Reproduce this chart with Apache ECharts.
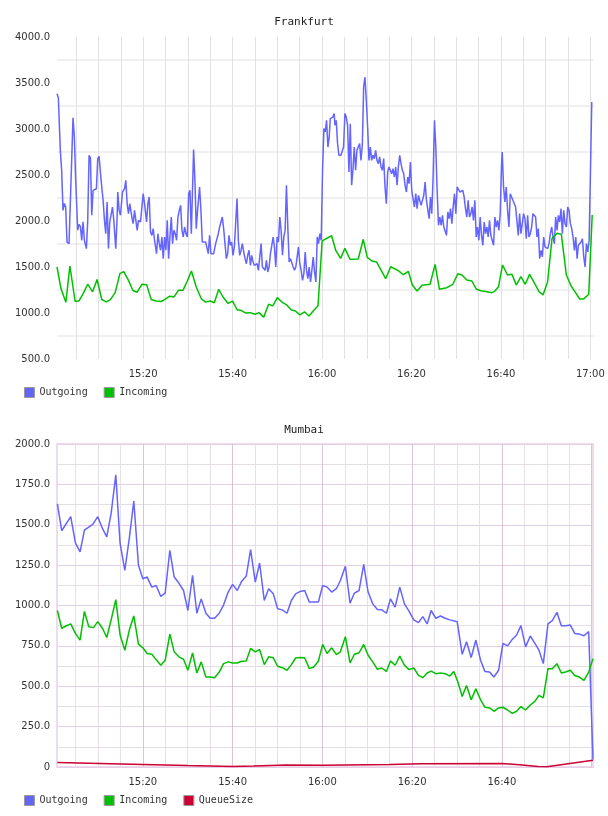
<!DOCTYPE html>
<html>
<head>
<meta charset="utf-8">
<title>Frankfurt / Mumbai</title>
<script src="https://cdn.jsdelivr.net/npm/echarts@6/dist/echarts.min.js"></script>
<style>
  html, body { margin: 0; padding: 0; background: #ffffff; }
  .chart { width: 608px; height: 408px; }
</style>
</head>
<body>
<div id="frankfurt" class="chart"></div>
<div id="mumbai" class="chart"></div>
<script>
// time = minutes after 15:00, value
var frankfurtOutgoing = [
  [0.74,3384],[1.04,3340],[1.48,2768],[1.78,2550],[2.08,2116],[2.38,2190],[2.68,2150],[2.98,1770],[3.43,1754],[3.73,1754],
  [4.32,3123],[4.62,2913],[4.92,2442],[5.37,1900],[5.67,1964],[5.97,1942],[6.27,1790],[6.56,1990],[6.86,1790],[7.31,1700],
  [7.61,2007],[7.91,2714],[8.21,2690],[8.51,2062],[8.81,2333],[9.25,2340],[9.55,2350],[9.85,2678],[10.15,2703],[10.6,2442],
  [11.05,2225],[11.35,2007],[11.64,1862],[11.94,2206],[12.24,1700],[12.54,1990],[12.84,2007],[13.14,2152],[13.44,2007],[13.88,1700],
  [14.18,2043],[14.33,2315],[14.63,2116],[14.93,2062],[15.38,2315],[15.83,2350],[16.13,2442],[16.42,2188],[16.72,2080],[17.02,2188],
  [17.47,2043],[17.77,1971],[18.07,2116],[18.37,2007],[18.67,1898],[18.96,2007],[19.41,1990],[19.71,2007],[20.01,2297],[20.31,2188],
  [20.76,1990],[21.06,2188],[21.35,2261],[21.65,1880],[21.95,1844],[22.25,1917],[22.55,1790],[23.0,1645],[23.3,1862],[23.6,1754],
  [23.89,1682],[24.19,1826],[24.49,1591],[24.79,1826],[25.09,1682],[25.39,2007],[25.69,1591],[25.99,1826],[26.29,2043],[26.58,1754],
  [26.88,1898],[27.18,1862],[27.48,1790],[27.78,2043],[28.08,2116],[28.38,2170],[28.68,1898],[28.97,1826],[29.27,1935],[29.57,1862],
  [29.87,1826],[30.17,2297],[30.47,2333],[30.77,1862],
  [31.28,2776],[31.58,2442],[31.87,1917],[32.17,2116],[32.62,2370],[32.92,2116],[33.22,1772],[33.52,1772],[33.97,1772],[34.26,1754],
  [34.56,1645],[34.86,1844],[35.16,1645],[35.46,1663],[35.76,1645],[36.21,1754],[36.51,1736],[36.8,1862],[37.1,1935],[37.4,1935],
  [37.7,2043],[38.0,1917],[38.3,1754],[38.6,1591],[38.9,1645],[39.19,1844],[39.49,1736],[39.79,1772],[40.09,1627],[40.39,1718],
  [40.69,1718],[40.99,2243],[41.29,1790],[41.59,1627],[41.88,1682],[42.18,1754],[42.48,1663],[42.78,1591],[43.08,1536],[43.38,1627],
  [43.68,1682],[43.98,1518],[44.27,1627],[44.57,1555],[44.87,1518],[45.17,1500],[45.47,1536],[45.77,1464],[46.07,1446],[46.37,1754],
  [46.66,1500],[46.96,1518],[47.26,1464],[47.56,1573],[47.86,1446],[48.16,1500],[48.46,1645],[48.76,1627],[49.06,1826],[49.35,1718],
  [49.65,1500],[49.95,1826],[50.25,1772],[50.55,2043],[50.85,1898],[51.15,1627],[51.45,1826],[51.74,1898],[52.04,2388],[52.34,1935],
  [52.64,1555],[52.94,1591],[53.24,1573],[53.54,1500],[53.84,1464],[54.13,1500],[54.43,1609],[54.73,1718],[55.03,1536],[55.33,1464],
  [55.63,1355],[55.93,1428],[56.23,1663],[56.53,1464],[56.82,1373],[57.12,1500],[57.42,1337],[57.72,1464],[58.02,1609],[58.32,1446],
  [58.62,1337],[58.92,1826],[59.21,1754],[59.51,1862],[59.81,1790],[60.11,2551],[60.41,3004],[60.71,2967],[61.01,3094],[61.31,2804],
  [61.6,2913],
  [61.83,3112],[62.12,3094],[62.42,3130],[62.72,3167],[62.87,3040],[63.17,3094],[63.47,2841],[63.77,2714],[64.22,2714],[64.51,2732],
  [64.81,2804],[65.11,3167],[65.41,3130],[65.71,3040],[66.01,2533],[66.31,3058],[66.61,2388],[66.9,2551],[67.2,2804],[67.5,2551],
  [67.8,2768],[68.1,2768],[68.4,2841],[68.7,2659],[69.0,2823],[69.3,3457],[69.59,3565],[69.89,3312],[70.19,3022],[70.49,2659],
  [70.79,2804],[71.09,2659],[71.39,2714],[71.69,2678],[71.98,2768],[72.28,2659],[72.58,2623],[72.88,2696],[73.18,2587],[73.48,2551],
  [73.78,2678],[74.08,2370],[74.37,2188],[74.67,2533],[74.97,2587],[75.27,2551],[75.57,2514],[75.87,2569],[76.17,2478],[76.47,2587],
  [76.77,2388],[77.06,2587],[77.36,2714],[77.66,2623],[77.96,2551],[78.26,2514],[78.56,2388],[78.86,2315],[79.16,2478],[79.45,2406],
  [79.75,2641],[80.05,2333],[80.35,2333],[80.65,2152],[80.95,2297],[81.25,2134],[81.55,2279],[81.85,2279],[82.14,2170],[82.44,2170],
  [82.74,2279],[83.04,2424],[83.34,2225],[83.64,2206],[83.94,2025],[84.24,2261],[84.53,2080],[84.83,2478],[85.13,3094],[85.43,2804],
  [85.73,2333],[86.03,1953],[86.33,2043],[86.63,1953],[86.92,2061],[87.22,1935],[87.52,1917],[87.82,1844],[88.12,2098],[88.42,2025],
  [88.72,2134],[89.02,1971],[89.31,2152],[89.61,2297],[89.91,2080],[90.21,2370],[90.51,2388],[90.81,2315],
  [91.17,2297],[91.47,2333],[91.77,2261],[92.07,2134],[92.36,2043],[92.66,2225],[92.96,2043],[93.26,2080],[93.56,2152],[93.86,2007],
  [94.16,2225],[94.46,1826],[94.75,1935],[95.05,1790],[95.35,2043],[95.65,1844],[95.95,1736],[96.25,1989],[96.55,1862],[96.85,1935],
  [97.14,1826],[97.44,2007],[97.74,1844],[98.04,1826],[98.34,1736],[98.64,2043],[98.94,1935],[99.24,2007],[99.54,1898],[99.83,2080],
  [100.13,2623],[100.28,2750],[100.58,2370],[100.88,2206],[101.18,2370],[101.48,2116],[101.78,1935],[102.08,2297],[102.37,2297],[102.67,2225],
  [102.97,2206],[103.27,2152],[103.57,2170],[103.87,1844],[104.17,2080],[104.47,1862],[104.76,1862],[105.06,2080],[105.36,2025],[105.66,1808],
  [105.96,2061],[106.26,1826],[106.56,1862],[106.86,1935],[107.15,2080],[107.45,2098],[107.75,2043],[108.05,1826],[108.35,1917],[108.65,1591],
  [108.95,1681],[109.25,1609],[109.55,1826],[109.84,1718],[110.14,1700],[110.44,1700],[110.74,1754],[111.04,1862],[111.34,1935],[111.64,1826],
  [111.94,1754],[112.23,2043],[112.53,1898],[112.83,2061],[113.13,1989],[113.43,2134],[113.73,1862],[114.03,2116],[114.33,1971],[114.63,1935],
  [114.92,2152],[115.22,2116],[115.52,1971],[115.82,1917],[116.12,1826],[116.42,1681],[116.72,1826],[117.02,1591],[117.31,1736],[117.61,1754],
  [117.91,1772],[118.21,1808],[118.51,1609],[118.81,1500],[119.11,1754],[119.41,1663],[119.71,1790],[120.0,2515],[120.3,3293]
];

var frankfurtIncoming = [
  [0.74,1500],[1.63,1265],[2.72,1116],[3.62,1511],[4.8,1125],[5.7,1134],[6.58,1210],[7.6,1313],[8.69,1230],[9.7,1364],
  [10.74,1147],[11.75,1121],[12.69,1145],[13.74,1221],[14.82,1430],[15.67,1449],[16.72,1355],[17.72,1244],[18.67,1226],[19.75,1313],
  [20.79,1306],[21.8,1147],[22.85,1130],[24.0,1125],[24.79,1145],[25.94,1183],[26.9,1175],[27.93,1248],[28.92,1248],[29.87,1348],
  [30.8,1456],[31.87,1283],[33.0,1155],[33.95,1118],[35.01,1130],[35.91,1112],[36.9,1258],[37.85,1174],[39.0,1104],[40.0,1130],
  [40.99,1035],[42.0,1027],[42.93,999],[43.98,1004],[44.98,986],[45.91,1004],[46.96,955],[48.05,1095],[48.98,1077],[50.0,1167],
  [51.1,1116],[52.1,1088],[53.09,1036],[54.03,1022],[55.06,980],[56.1,1013],[57.08,968],[58.02,1022],[59.1,1078],[60.02,1783],
  [62.13,1840],[63.09,1677],[64.15,1594],[65.11,1703],[66.23,1584],[68.09,1587],[69.21,1801],[70.11,1605],[71.16,1565],[72.21,1554],
  [74.23,1373],[75.35,1503],[77.05,1460],[78.17,1416],[79.29,1453],[80.19,1304],[81.24,1239],[82.36,1301],[84.15,1312],[85.27,1529],
  [86.24,1258],[87.89,1275],[89.24,1312],[90.36,1427],[91.25,1413],[92.38,1359],[93.5,1348],[94.46,1261],[95.51,1242],[96.86,1232],
  [97.98,1221],[98.49,1232],[99.45,1286],[100.35,1522],[101.47,1413],[102.46,1420],[103.42,1304],[104.47,1395],[105.44,1312],[106.4,1420],
  [107.52,1323],[108.51,1232],[109.4,1196],[110.43,1340],[111.42,1812],[112.54,1866],[113.5,1855],[114.62,1413],[115.68,1293],[116.64,1225],
  [117.6,1152],[118.5,1152],[119.62,1203],[120.4,2065]
];

var mumbaiOutgoing = [
  [0.97,1629],[1.93,1463],[3.94,1550],[4.98,1388],[6.02,1332],[6.99,1467],[8.85,1502],[9.96,1550],[11.0,1477],[11.97,1425],
  [12.94,1570],[13.98,1809],[14.94,1384],[15.99,1218],[17.03,1425],[17.99,1647],[19.03,1249],[20.0,1166],[20.97,1176],[22.01,1114],
  [22.97,1124],[24.01,1056],[24.98,1077],[26.02,1342],[26.99,1176],[28.03,1139],[29.07,1093],[30.04,969],[31.08,1187],[32.04,952],
  [33.01,1041],[34.05,952],[35.02,921],[35.99,921],[37.03,952],[38.0,1004],[39.03,1083],[40.0,1131],[41.04,1093],[42.01,1149],
  [43.05,1182],[44.01,1346],[45.06,1145],[46.02,1263],[47.06,1031],[48.03,1104],[49.07,1072],[50.04,980],[51.08,973],[52.12,952],
  [53.09,1031],[54.05,1072],[55.09,1087],[56.06,1093],[57.1,1021],[58.07,1021],[59.11,1021],[60.07,1124],[61.04,1114],[62.08,1083],
  [63.12,1104],[64.01,1155],[65.13,1243],[66.17,1014],[67.14,1077],[68.18,1093],[69.22,1255],[70.19,1083],[71.23,1010],[72.27,975],
  [73.24,973],[74.28,952],[75.17,1041],[76.21,990],[77.25,1114],[78.29,1010],[79.33,963],[80.37,911],[81.41,894],[82.38,931],
  [83.35,886],[84.24,969],[85.28,921],[86.32,935],[87.36,921],[88.4,911],[90.04,900],[91.16,698],[92.12,775],[93.16,678],
  [94.2,786],[95.25,661],[96.21,592],[97.25,588],[98.22,557],[99.26,599],[100.23,765],[101.27,750],[102.31,790],[103.28,817],
  [104.24,875],[105.28,744],[106.33,811],[107.29,769],[108.26,723],[109.23,640],[110.27,886],[111.23,906],[112.27,958],[113.24,875],
  [114.21,875],[115.25,879],[116.22,827],[117.26,823],[118.3,813],[119.34,838],[120.3,47]
];

var mumbaiIncoming = [
  [0.97,969],[1.93,859],[2.9,873],[3.94,886],[4.98,827],[6.02,786],[6.99,963],[7.96,869],[9.0,863],[9.96,900],
  [11.0,859],[11.97,802],[12.94,911],[13.98,1036],[14.94,817],[15.99,723],[17.03,852],[17.99,935],[19.03,761],[20.0,738],
  [20.97,703],[22.01,698],[22.97,665],[24.01,630],[24.98,661],[26.02,823],[26.99,713],[28.03,682],[29.07,667],[30.04,599],
  [31.08,707],[32.04,582],[33.01,651],[34.05,557],[35.02,557],[35.99,553],[37.03,588],[38.0,640],[39.03,651],[40.0,644],
  [41.04,644],[42.01,655],[43.05,657],[44.01,734],[45.06,713],[46.02,728],[47.06,634],[48.03,682],[49.07,676],[50.04,624],
  [51.08,615],[52.12,599],[53.09,634],[54.05,675],[55.09,678],[56.06,676],[57.1,609],[58.07,619],[59.11,655],[60.07,759],
  [61.04,703],[62.08,738],[63.12,696],[64.01,713],[65.13,807],[66.17,644],[67.14,698],[68.18,707],[69.22,759],[70.19,692],
  [71.23,651],[72.27,605],[73.24,613],[74.28,592],[75.17,657],[76.21,630],[77.25,686],[78.29,630],[79.33,603],[80.37,613],
  [81.41,567],[82.38,553],[83.35,582],[84.24,594],[85.28,578],[86.32,582],[87.36,578],[88.4,563],[89.3,592],[90.19,526],
  [91.16,436],[92.12,505],[93.16,416],[94.2,484],[95.25,416],[96.21,370],[97.25,366],[98.22,345],[99.26,366],[100.23,370],
  [101.27,353],[102.31,332],[103.28,345],[104.24,374],[105.28,353],[106.33,384],[107.29,405],[108.26,443],[109.23,428],[110.27,609],
  [111.23,609],[112.27,640],[113.24,582],[114.21,588],[115.25,599],[116.22,567],[117.26,557],[118.3,536],[119.34,588],[120.3,671]
];

var mumbaiQueueSize = [
  [0.97,28],[10.5,22],[20,16],[30,9],[40,3],[44.7,6],[52,12],[60,11],[75,15],[82,20],
  [100,22],[104,14],[108,3],[110,2],[120.3,42]
];

var seriesColors = { Outgoing: '#6464ff', Incoming: '#00c000', QueueSize: '#cc0033' };

function clock(m) {
  var h = 15 + Math.floor(m / 60);
  var mm = Math.round(m % 60);
  return h + ':' + (mm < 10 ? '0' : '') + mm;
}

function timeLabel(maxLabel) {
  return function (v) {
    var q = Math.round(v / 20);
    if (q < 1 || Math.abs(v - q * 20) > 1e-6 || v > maxLabel) return '';
    return clock(v);
  };
}

var labelFont = { fontFamily: 'DejaVu Sans', fontSize: 10, color: '#333333' };

function lineSeries(name, data) {
  return {
    name: name,
    type: 'line',
    data: data,
    showSymbol: false,
    symbol: 'none',
    lineStyle: { width: 1.5, color: seriesColors[name] },
    itemStyle: { color: seriesColors[name] },
    emphasis: { disabled: true },
    animation: false
  };
}

function baseOption(title, names) {
  return {
    animation: false,
    title: {
      text: title,
      left: 'center',
      top: 12,
      textStyle: { fontFamily: 'DejaVu Sans Mono', fontSize: 11, fontWeight: 'normal', color: '#222222' }
    },
    legend: {
      data: names,
      left: 24,
      top: 387,
      padding: 0,
      icon: 'rect',
      itemWidth: 10,
      itemHeight: 10,
      itemGap: 16,
      itemStyle: { borderColor: '#999999', borderWidth: 1 },
      textStyle: { fontFamily: 'DejaVu Sans Mono', fontSize: 10, color: '#333333' }
    }
  };
}

// Frankfurt
var fra = echarts.init(document.getElementById('frankfurt'), null, { renderer: 'canvas' });
var fraOption = baseOption('Frankfurt', ['Outgoing', 'Incoming']);
fraOption.grid = { left: 57, right: 14, top: 37, bottom: 49 };
fraOption.xAxis = {
  type: 'value', min: 0.74, max: 120.8, splitNumber: 24,
  axisLine: { show: false }, axisTick: { show: false },
  axisLabel: Object.assign({ formatter: timeLabel(120), margin: 10, showMinLabel: false, showMaxLabel: false }, labelFont),
  splitLine: { show: true, showMinLine: false, showMaxLine: false, lineStyle: { color: '#e2e2e2', width: 1 } }
};
fraOption.yAxis = {
  type: 'value', min: 500, max: 4000, interval: 250,
  axisLine: { show: false }, axisTick: { show: false },
  axisLabel: Object.assign({
    margin: 7,
    formatter: function (v) { return v % 500 === 0 ? v.toFixed(1) : ''; }
  }, labelFont),
  splitLine: { show: true, lineStyle: { color: ['transparent', '#f0f0f0'], width: 2 } }
};
fraOption.series = [
  lineSeries('Outgoing', frankfurtOutgoing),
  lineSeries('Incoming', frankfurtIncoming)
];
fra.setOption(fraOption);

// Mumbai
var mum = echarts.init(document.getElementById('mumbai'), null, { renderer: 'canvas' });
var mumOption = baseOption('Mumbai', ['Outgoing', 'Incoming', 'QueueSize']);
mumOption.grid = { left: 57, right: 15, top: 36, bottom: 49, show: true, borderColor: '#ecdcec', borderWidth: 2 };
mumOption.xAxis = [
  {
    type: 'value', min: 0.88, max: 120.3, splitNumber: 24,
    axisLine: { show: false }, axisTick: { show: false },
    axisLabel: Object.assign({ formatter: timeLabel(119), margin: 10, showMinLabel: false, showMaxLabel: false }, labelFont),
    splitLine: { show: true, showMinLine: false, showMaxLine: false, lineStyle: { color: '#e8e0e8', width: 1 } }
  },
  {
    type: 'value', min: 0.88, max: 120.3, splitNumber: 6, position: 'top',
    axisLine: { show: false }, axisTick: { show: false }, axisLabel: { show: false },
    splitLine: { show: true, showMinLine: false, showMaxLine: false, lineStyle: { color: '#dcc2dc', width: 1 } }
  }
];
mumOption.yAxis = {
  type: 'value', min: 0, max: 2000, interval: 125,
  axisLine: { show: false }, axisTick: { show: false },
  axisLabel: Object.assign({
    margin: 7,
    formatter: function (v) {
      if (v % 250 !== 0) return '';
      return v === 0 ? '0' : v.toFixed(1);
    }
  }, labelFont),
  splitLine: { show: true, lineStyle: { color: ['#e6cee6', '#e4dee4'], width: 1 } }
};
mumOption.series = [
  lineSeries('Outgoing', mumbaiOutgoing),
  lineSeries('Incoming', mumbaiIncoming),
  lineSeries('QueueSize', mumbaiQueueSize)
];
mum.setOption(mumOption);
</script>
</body>
</html>
